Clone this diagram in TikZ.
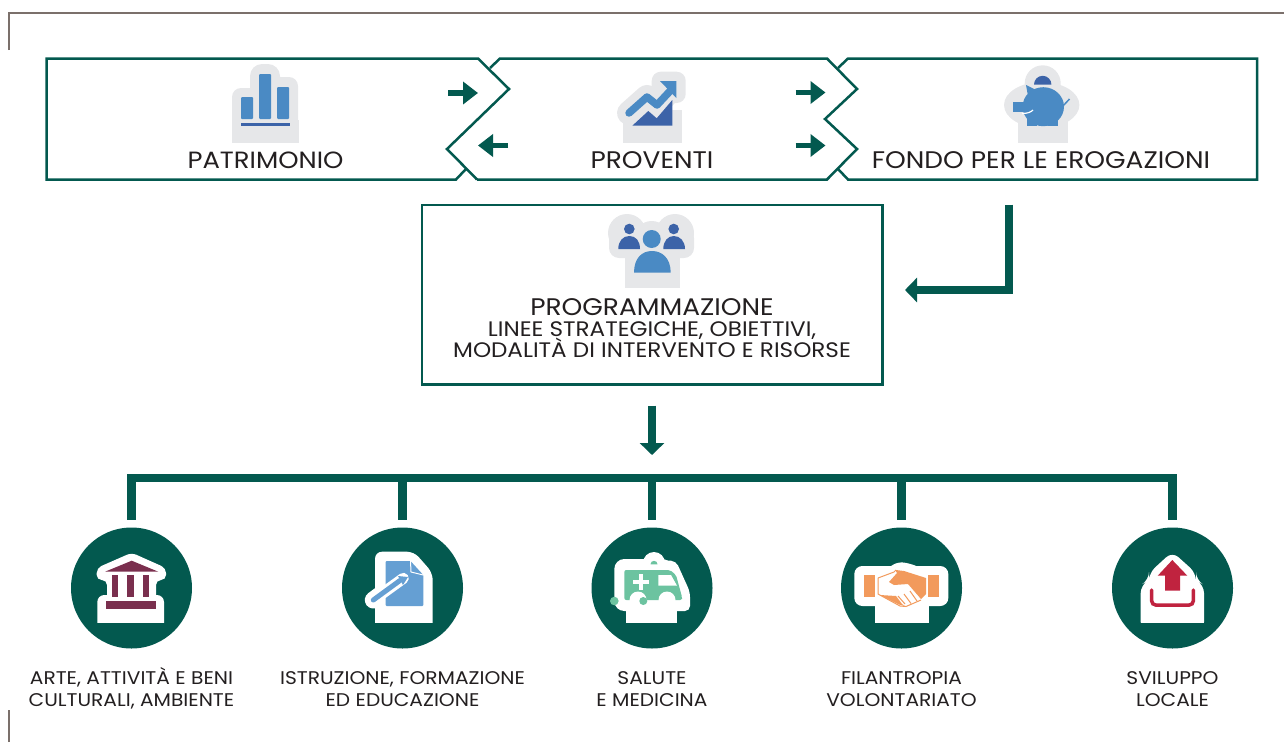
\documentclass[tikz,border=0pt]{standalone}
\usepackage{fontspec}
\setmainfont[FakeStretch=1.1]{Poppins}
\usetikzlibrary{positioning,arrows.meta}
\lineskiplimit=-20pt

\definecolor{verde}{HTML}{03594F}
\definecolor{cornice}{HTML}{7B706B}
\definecolor{grigio}{HTML}{E6E7E9}
\definecolor{azzurro}{HTML}{4A8AC4}
\definecolor{blu}{HTML}{3C63A8}
\definecolor{bordeaux}{HTML}{7A2F4E}
\definecolor{celeste}{HTML}{659FD3}
\definecolor{menta}{HTML}{6CC3A0}
\definecolor{arancio}{HTML}{F29A5C}
\definecolor{cremisi}{HTML}{C0233F}
\definecolor{testo}{HTML}{231F20}

\tikzset{
  profilo/.style={draw=verde,line width=2.5pt,line join=miter},
  cornicetta/.style={draw=cornice,line width=2.5pt},
  titolo/.style={text=testo,font=\fontsize{24}{26}\selectfont,inner sep=0pt,anchor=base},
  voce/.style={text=testo,font=\fontsize{18.35}{21.3}\selectfont,inner sep=0pt,align=center},
  tondo/.style={circle,fill=verde,minimum size=121pt,inner sep=0pt},
  freccina/.style={draw=verde,line width=5.5pt,-{Triangle[length=15pt,width=22pt]}},
  frecciona/.style={draw=verde,line width=8.5pt,-{Triangle[length=12pt,width=24pt]}},
  bus/.style={draw=verde,line width=8.5pt},
  alone/.style={fill=grigio},
  bianco/.style={fill=white}
}

\begin{document}
\begin{tikzpicture}[x=1pt,y=-1pt]

  \useasboundingbox (0,0) rectangle (1284,742);

  \draw[cornicetta] (9,50) -- (9,13) -- (1284,13);
  \draw[cornicetta] (9,742) -- (9,710);

  \draw[profilo] (466,169) -- (456,179.5) -- (46.5,179.5) -- (46.5,58.5) -- (478,58.5) -- (509,89) -- (447,149) -- (477,179.5);
  \draw[profilo] (490,68) -- (500,58.5) -- (827,58.5) -- (857,89) -- (825,119) -- (857,149) -- (827,179.5) -- (477,179.5);
  \draw[profilo] (838,68) -- (848,58.5) -- (1257,58.5) -- (1257,179.5) -- (848,179.5) -- (838,169);

  % patrimonio
  \fill[alone,rounded corners=9pt] (232,150) -- (232,88) -- (262,88) -- (262,150) -- cycle;
  \fill[alone,rounded corners=12pt] (250,150) -- (250,64) -- (280,64) -- (280,150) -- cycle;
  \fill[alone,rounded corners=9pt] (268,150) -- (268,77) -- (298,77) -- (298,150) -- cycle;
  \fill[alone] (232,120) rectangle (299,143);
  \fill[white] (225,143) rectangle (305,152);
  \fill[azzurro,rounded corners=1pt] (241,97) rectangle (253,119);
  \fill[azzurro,rounded corners=1pt] (259,74) rectangle (271,119);
  \fill[azzurro,rounded corners=1pt] (277,87) rectangle (289,119);
  \fill[blu] (241,123) rectangle (290,125.5);

  % proventi
  \draw[grigio,line width=24pt,line cap=round,line join=round] (629,113) -- (647,97) -- (657,105) -- (673,87);
  \fill[alone,rounded corners=9pt] (651.7,71.7) rectangle (685.7,103);
  \fill[alone] (622.7,110) rectangle (681.7,142.7);
  \fill[blu] (632.3,125.7) -- (648.3,111) -- (656.7,118.3) -- (672.3,100) -- (672.3,125.7) -- cycle;
  \draw[grigio,line width=13pt,line join=round] (629,113) -- (647,97) -- (657,105) -- (671,90);
  \draw[azzurro,line width=7.5pt,line cap=round,line join=round] (629,113) -- (647,97) -- (657,105) -- (671,90);
  \fill[azzurro] (676.3,81) -- (660,81) -- (676.3,98) -- cycle;

  % fondo
  \fill[alone] (1042.7,83.3) circle (18);
  \fill[alone] (1041.7,105) ellipse (37.7 and 23);
  \fill[alone] (1018.3,110) rectangle (1067.7,142.7);
  \fill[blu] (1034,84.5) arc[start angle=180,end angle=360,radius=8.7] -- cycle;
  \fill[azzurro] (1043.3,106.7) ellipse (20.7 and 19.5);
  \fill[azzurro] (1013.3,101.7) rectangle (1030,112.3);
  \fill[azzurro] (1026.7,110) rectangle (1036.7,125.7);
  \fill[azzurro] (1048.3,115) rectangle (1058.3,125.7);
  \fill[azzurro] (1026,85) -- (1036,90) -- (1028,96) -- cycle;
  \draw[azzurro,line width=1.5pt] (1062,107) -- (1069.5,99);
  \draw[white,line width=1.2pt] (1022,113.5) .. controls (1028,113.5) and (1031,112) .. (1033,110);

  % programmazione
  \fill[alone] (627,233) circle (19);
  \fill[alone] (675,233) circle (19);
  \fill[alone] (651.7,239) circle (18);
  \fill[alone,rounded corners=10pt] (609,228) rectangle (694,258);
  \fill[alone] (625,240) rectangle (680,288.3);
  \fill[blu] (629.3,229) circle (5.3);
  \fill[blu] (673.7,229) circle (5.3);
  \fill[blu] (618.3,249) .. controls (618.3,241) and (623,236) .. (629.3,236) .. controls (636,236) and (640,241) .. (640,249) -- cycle;
  \fill[blu] (663.3,249) .. controls (663.3,241) and (668,236) .. (673.7,236) .. controls (680,236) and (685,241) .. (685,249) -- cycle;
  \fill[alone] (651.7,239) circle (11);
  \fill[alone] (632,274) .. controls (632,258) and (641,249) .. (652,249) .. controls (663,249) and (672.7,258) .. (672.7,274) -- cycle;
  \fill[azzurro] (651.7,239) circle (9);
  \fill[azzurro] (634,272.7) .. controls (634,258) and (642,251) .. (652,251) .. controls (662,251) and (670.7,258) .. (670.7,272.7) -- cycle;

  \node[titolo,font=\fontsize{23.5}{26}\selectfont] (a0) at (265.5,168) {PATRIMONIO};
  \node[titolo] (a1) at (652,168) {PROVENTI};
  \node[titolo] (a2) at (1041,168) {FONDO PER LE EROGAZIONI};

  \node[draw=verde,line width=2.5pt,minimum width=460.5pt,minimum height=179.5pt,inner sep=0pt] (a3) at (652,294.5) {};
  \node[titolo] (a4) at (652,315) {PROGRAMMAZIONE};
  \node[voce,font=\fontsize{21}{21.5}\selectfont,anchor=north] (a5) [below=6pt of a4] {LINEE STRATEGICHE, OBIETTIVI,\\MODALITÀ DI INTERVENTO E RISORSE};

  \coordinate (f0) at (448,93);
  \coordinate (f1) at (478,93);
  \coordinate (f2) at (508,145.5);
  \coordinate (f3) at (478,145.5);
  \coordinate (f4) at (795.5,92.5);
  \coordinate (f5) at (825.5,92.5);
  \coordinate (f6) at (795.5,145.5);
  \coordinate (f7) at (825.5,145.5);
  \coordinate (e0) at (1009,204.5);
  \coordinate (e1) at (905,290);
  \coordinate (g0) at (652,405.5);
  \coordinate (g1) at (652,455);

  \draw[freccina] (f0) -- (f1);
  \draw[freccina] (f2) -- (f3);
  \draw[freccina] (f4) -- (f5);
  \draw[freccina] (f6) -- (f7);
  \draw[frecciona] (e0) |- (e1);
  \draw[frecciona] (g0) -- (g1);

  \node[tondo] (c1) at (131.5,588) {};
  \node[tondo] (c2) at (402.5,588) {};
  \node[tondo] (c3) at (652,588) {};
  \node[tondo] (c4) at (901.5,588) {};
  \node[tondo] (c5) at (1172.5,588) {};

  \coordinate (t1) at (131.5,478);
  \coordinate (t2) at (402.5,478);
  \coordinate (t3) at (652,478);
  \coordinate (t4) at (901.5,478);
  \coordinate (t5) at (1172.5,478);

  \draw[bus,line cap=rect] (t1) -- (t5);
  \path[bus,shorten >=7pt] (t1) edge (c1);
  \path[bus,shorten >=7pt] (t2) edge (c2);
  \path[bus,shorten >=7pt] (t3) edge (c3);
  \path[bus,shorten >=7pt] (t4) edge (c4);
  \path[bus,shorten >=7pt] (t5) edge (c5);

  % arte
  \fill[bianco,rounded corners=5pt] (131.7,552.7) -- (166,568) -- (166,580) -- (156,580) -- (156,620) -- (107,620) -- (107,580) -- (96.7,580) -- (96.7,568) -- cycle;
  \fill[bianco,rounded corners=7pt] (97.3,630) -- (97.3,595) -- (164,595) -- (164,630) -- cycle;
  \fill[verde] (90,623.3) rectangle (172,632);
  \fill[bordeaux] (131.7,560.7) -- (105,571.7) -- (158.3,571.7) -- cycle;
  \fill[bordeaux] (112.3,575) rectangle (118.3,597.3);
  \fill[bordeaux] (127.3,575) rectangle (133.7,597.3);
  \fill[bordeaux] (142.7,575) rectangle (149,597.3);
  \fill[bordeaux] (105.7,601) rectangle (155.7,608.7);

  % istruzione
  \fill[bianco,rounded corners=7pt] (375,630) -- (375,551.7) -- (414,551.7) -- (432.7,573) -- (432.7,630) -- cycle;
  \fill[verde] (370,623.3) rectangle (437,632);
  \draw[white,line width=17pt,line cap=round] (373.3,600) -- (395,584);
  \fill[celeste,rounded corners=1pt] (385.7,561) -- (410.5,561) -- (423.3,575) -- (423.3,606) -- (385.7,606) -- cycle;
  \draw[white,line width=1pt] (410.5,561) -- (411,572) -- (423.3,575);
  \draw[white,line width=11pt,line cap=round] (373.3,600) -- (403.3,578.3);
  \draw[celeste,line width=5pt,line cap=round] (373.3,600) -- (400,580.5);
  \fill[celeste] (398,576) -- (408,577) -- (403,585) -- cycle;

  % salute
  \fill[bianco,rounded corners=10pt] (614.3,559) rectangle (672,611);
  \fill[bianco] (654,563) circle (11);
  \fill[bianco,rounded corners=5pt] (660,560) -- (676,561) -- (690,592) -- (690,611) -- (660,611) -- cycle;
  \fill[bianco] (626,595) rectangle (677.3,623.3);
  \fill[menta,rounded corners=2pt] (624.3,570) -- (670,570) -- (676,575) -- (682,597) -- (682,600) -- (624.3,600) -- cycle;
  \fill[white] (638,600) circle (8.5);
  \fill[white] (667,600) circle (8.5);
  \fill[menta] (643.3,601) circle (4);
  \fill[menta] (614.3,601) circle (4.3);
  \fill[menta] (650.5,564.3) arc[start angle=180,end angle=360,radius=3.5] -- cycle;
  \fill[white] (633,580) rectangle (649,584);
  \fill[white] (639,574) rectangle (643,590);
  \fill[white] (658.3,575) -- (671,575) -- (677,585.7) -- (658.3,585.7) -- cycle;

  % filantropia
  \fill[bianco,rounded corners=8pt] (854.3,566) rectangle (948.3,606);
  \fill[bianco,rounded corners=6pt] (885,570) -- (898,561.5) -- (912,564) -- (925,570) -- cycle;
  \fill[bianco] (875,600) rectangle (929,623.3);
  \fill[arancio] (864,575) rectangle (875,596.7);
  \fill[arancio] (928.3,575) rectangle (939,596.7);
  \fill[arancio] (889,582) -- (897,573) -- (896,571.5) -- (896,570) -- (904,571) -- (926,578) -- (926,594) -- (921,599) -- (908,584) -- (894,585) -- cycle;
  \draw[arancio,line width=1pt,line join=round] (878,578) -- (894,572) -- (896,570);
  \draw[arancio,line width=1pt] (878,578) -- (878,594) -- (900,606) -- (906,606.5) -- (921,600);
  \fill[arancio] (880,595) -- (896,596) -- (902,604) -- (905,606) -- (899,604.5) -- cycle;
  \draw[arancio,line width=1pt] (898,596) -- (905,604);
  \draw[arancio,line width=1pt] (904,594) -- (911,603.5);
  \draw[arancio,line width=1pt] (910,591) -- (917,601);
  \draw[arancio,line width=1pt] (915,588) -- (921,598);

  % sviluppo
  \fill[bianco,rounded corners=8pt] (1172.3,551.7) -- (1196,573) -- (1196,580) -- (1204,585) -- (1204,630) -- (1140.7,630) -- (1140.7,585) -- (1149,580) -- (1149,573) -- cycle;
  \fill[verde] (1135,623.3) rectangle (1210,632);
  \fill[cremisi] (1172.3,560) -- (1187.3,575.7) -- (1180,575.7) -- (1180,590.7) -- (1165,590.7) -- (1165,575.7) -- (1157.7,575.7) -- cycle;
  \draw[cremisi,line width=3.5pt,rounded corners=4pt,line cap=round] (1151.7,590) -- (1151.7,605) -- (1193.3,605) -- (1193.3,590);

  \node[voce] (l1) [below=19pt of c1] {ARTE, ATTIVITÀ E BENI\\CULTURALI, AMBIENTE};
  \node[voce] (l2) [below=23pt of c2] {ISTRUZIONE, FORMAZIONE\\ED EDUCAZIONE};
  \node[voce] (l3) [below=23pt of c3] {SALUTE\\E MEDICINA};
  \node[voce] (l4) [below=23pt of c4] {FILANTROPIA\\VOLONTARIATO};
  \node[voce] (l5) [below=23pt of c5] {SVILUPPO\\LOCALE};

\end{tikzpicture}
\end{document}
